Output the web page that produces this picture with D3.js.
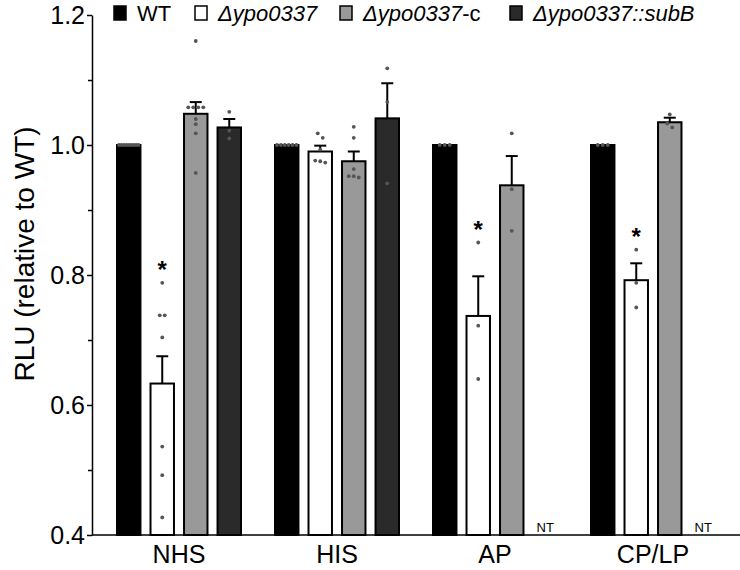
<!DOCTYPE html>
<html>
<head>
<meta charset="utf-8">
<script src="https://cdn.jsdelivr.net/npm/d3@7"></script>
<style>
  body { margin: 0; background: #fff; }
  text { font-family: "Liberation Sans", Arial, sans-serif; fill: #000; }
</style>
</head>
<body>
<svg id="chart" width="740" height="570"></svg>
<script>
// data
const groups = ["NHS", "HIS", "AP", "CP/LP"]
const strains = ["WT", "del", "comp", "subB"]

const wtMean = [1.0, 1.0, 1.0, 1.0]
const delMean = [0.633, 0.990, 0.737, 0.792]
const compMean = [1.048, 0.975, 0.938, 1.035]
const subBMean = [1.027, 1.041, null, null]

const wtSE = [0, 0, 0, 0]
const delSE = [0.042, 0.009, 0.061, 0.026]
const compSE = [0.018, 0.015, 0.045, 0.007]
const subBSE = [0.013, 0.054, null, null]

const wtPoints = [
  [1, 1, 1, 1, 1, 1, 1, 1, 1],
  [1, 1, 1, 1, 1, 1],
  [1, 1, 1],
  [1, 1, 1]
]
const delPoints = [
  [0.788, 0.738, 0.738, 0.704, 0.536, 0.492, 0.427],
  [1.018, 1.011, 0.993, 0.976, 0.973, 0.975],
  [0.850, 0.722, 0.640],
  [0.839, 0.788, 0.750]
]
const compPoints = [
  [1.160, 1.058, 1.058, 1.058, 1.058, 1.040, 1.032, 1.018, 0.957],
  [1.028, 1.011, 0.963, 0.952, 0.950, 0.952],
  [1.018, 0.932, 0.868],
  [1.047, 1.033, 1.027]
]
const subBPoints = [
  [1.051, 1.022, 1.010],
  [1.118, 1.066, 0.941],
  [],
  []
]

const delSig = [true, false, true, true]

const yTicks = [0.4, 0.6, 0.8, 1.0, 1.2]
const yMinorTicks = [0.5, 0.7, 0.9, 1.1]

const fills = { WT: "#000000", del: "#ffffff", comp: "#999999", subB: "#2a2a2a" }

const means = { WT: wtMean, del: delMean, comp: compMean, subB: subBMean }
const ses = { WT: wtSE, del: delSE, comp: compSE, subB: subBSE }
const pts = { WT: wtPoints, del: delPoints, comp: compPoints, subB: subBPoints }

const bars = []
groups.forEach((g, gi) => {
  strains.forEach(s => {
    bars.push({ group: g, strain: s, mean: means[s][gi], se: ses[s][gi], points: pts[s][gi], sig: s === "del" && delSig[gi] })
  })
})

const width = 740, height = 570

const svg = d3.select("#chart")

const y = d3.scaleLinear().domain([0.4, 1.2]).range([535, 15])
const x0 = d3.scaleBand().domain(groups).range([100, 732]).padding(0)
const x1 = d3.scaleBand().domain(strains).range([17, 141]).paddingInner(0.3).paddingOuter(0)
const bw = x1.bandwidth()

// axes
const axisLayer = svg.append("g").attr("id", "axis")

const yAxis = axisLayer.append("g")
  .attr("transform", "translate(92,0)")
  .call(d3.axisLeft(y).tickValues(yTicks).tickFormat(d3.format(".1f")).tickSize(5).tickSizeOuter(0))
yAxis.select(".domain").attr("stroke-width", 1.5)
yAxis.selectAll(".tick line").attr("stroke-width", 1.5)
yAxis.selectAll("text").attr("font-size", 25).attr("fill", "#000").attr("x", -7)

axisLayer.append("g")
  .attr("transform", "translate(92,0)")
  .call(d3.axisLeft(y).tickValues(yMinorTicks).tickFormat("").tickSize(4).tickSizeOuter(0))
  .call(g => g.select(".domain").remove())
  .call(g => g.selectAll(".tick line").attr("stroke-width", 1.5))

axisLayer.append("line")
  .attr("x1", 92).attr("x2", width)
  .attr("y1", y(0.4)).attr("y2", y(0.4))
  .attr("stroke", "#000").attr("stroke-width", 1.5)

axisLayer.append("text")
  .attr("transform", "translate(34,254) rotate(-90)")
  .attr("text-anchor", "middle")
  .attr("font-size", 28)
  .text("RLU (relative to WT)")

axisLayer.selectAll(".glabel")
  .data(groups)
  .join("text")
  .attr("class", "glabel")
  .attr("x", d => x0(d) + x0.bandwidth() / 2)
  .attr("y", 563)
  .attr("text-anchor", "middle")
  .attr("font-size", 25)
  .text(d => d)

// bars
const viz = svg.append("g").attr("id", "viz")
const drawn = bars.filter(d => d.mean != null)

viz.selectAll("rect")
  .data(drawn)
  .join("rect")
  .attr("x", d => x0(d.group) + x1(d.strain))
  .attr("y", d => y(d.mean))
  .attr("width", bw)
  .attr("height", d => y(0.4) - y(d.mean))
  .attr("fill", d => fills[d.strain])
  .attr("stroke", "#000")
  .attr("stroke-width", 2)

// error bars (upper only)
const err = viz.append("g").selectAll("g")
  .data(drawn.filter(d => d.se > 0))
  .join("g")
  .attr("transform", d => `translate(${x0(d.group) + x1(d.strain) + bw / 2},0)`)
err.append("line")
  .attr("y1", d => y(d.mean)).attr("y2", d => y(d.mean + d.se))
  .attr("stroke", "#000").attr("stroke-width", 2)
err.append("line")
  .attr("x1", -6).attr("x2", 6)
  .attr("y1", d => y(d.mean + d.se)).attr("y2", d => y(d.mean + d.se))
  .attr("stroke", "#000").attr("stroke-width", 2)

// individual points, spread sideways where they overlap
const dots = []
drawn.forEach(d => {
  const cx = x0(d.group) + x1(d.strain) + bw / 2
  const sorted = d.points.slice().sort((a, b) => b - a)
  const clusters = []
  sorted.forEach(v => {
    const last = clusters[clusters.length - 1]
    if (last && Math.abs(y(last[last.length - 1]) - y(v)) < 5) last.push(v)
    else clusters.push([v])
  })
  clusters.forEach(c => {
    const step = c.length > 1 ? Math.min(5, (bw - 4) / (c.length - 1)) : 0
    c.forEach((v, i) => dots.push({ x: cx + (i - (c.length - 1) / 2) * step, v }))
  })
})

viz.append("g").selectAll("circle")
  .data(dots)
  .join("circle")
  .attr("cx", d => d.x)
  .attr("cy", d => y(d.v))
  .attr("r", 1.9)
  .attr("fill", "#555")

// significance stars
viz.append("g").selectAll("text")
  .data(drawn.filter(d => d.sig))
  .join("text")
  .attr("x", d => x0(d.group) + x1(d.strain) + bw / 2)
  .attr("y", d => y(d3.max(d.points)) - 5)
  .attr("text-anchor", "middle")
  .attr("font-size", 24)
  .attr("font-weight", "bold")
  .text("*")

// not tested
viz.append("g").selectAll("text")
  .data(bars.filter(d => d.mean == null))
  .join("text")
  .attr("x", d => x0(d.group) + x1(d.strain) + bw / 2)
  .attr("y", 532)
  .attr("text-anchor", "middle")
  .attr("font-size", 13)
  .attr("fill", "#000")
  .text("NT")

// legend
const legendItems = [
  { strain: "WT", parts: [["WT", false]] },
  { strain: "del", parts: [["Δypo0337", true]] },
  { strain: "comp", parts: [["Δypo0337", true], ["-c", false]] },
  { strain: "subB", parts: [["Δypo0337::subB", true]] }
]
const legendX = [114, 195, 340, 510]

const legend = svg.append("g").attr("id", "legend")
const li = legend.selectAll("g")
  .data(legendItems)
  .join("g")
  .attr("transform", (d, i) => `translate(${legendX[i]},6)`)
li.append("rect")
  .attr("width", 12).attr("height", 14)
  .attr("fill", d => fills[d.strain])
  .attr("stroke", "#000").attr("stroke-width", 1.5)
li.append("text")
  .attr("x", 23).attr("y", 15)
  .attr("font-size", 22)
  .selectAll("tspan")
  .data(d => d.parts)
  .join("tspan")
  .attr("font-style", d => d[1] ? "italic" : "normal")
  .text(d => d[0])
</script>
</body>
</html>
